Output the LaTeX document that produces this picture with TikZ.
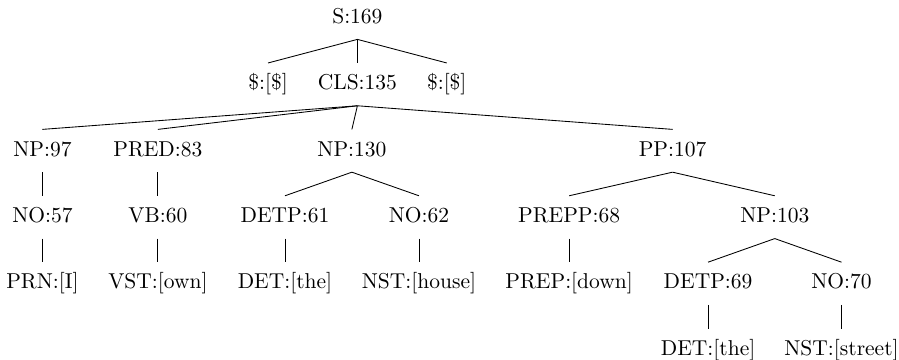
\documentclass[tikz,border=0pt]{standalone}
\usepackage{tikz}
\usepackage{amsmath}
\usetikzlibrary{calc}
\tikzstyle{tn}=[anchor=base,inner sep=3pt,text height=9.2pt,text depth=4.3pt]
\begin{document}
\begin{tikzpicture}
    \useasboundingbox (0,0) rectangle (14.69,-5.882);
    \node [style=tn] (s) at (5.84, -0.38) {S:169};
    \node [style=tn] (d1) at (4.38, -1.465) {\$:[\$]};
    \node [style=tn] (cls) at (5.84, -1.465) {CLS:135};
    \node [style=tn] (d2) at (7.30, -1.465) {\$:[\$]};
    \node [style=tn] (np1) at (0.694, -2.55) {NP:97};
    \node [style=tn] (pred) at (2.58, -2.55) {PRED:83};
    \node [style=tn] (np2) at (5.75, -2.55) {NP:130};
    \node [style=tn] (pp) at (10.99, -2.55) {PP:107};
    \node [style=tn] (no1) at (0.694, -3.635) {NO:57};
    \node [style=tn] (vb) at (2.58, -3.635) {VB:60};
    \node [style=tn] (detp1) at (4.657, -3.635) {DETP:61};
    \node [style=tn] (no2) at (6.846, -3.635) {NO:62};
    \node [style=tn] (prepp) at (9.30, -3.635) {PREPP:68};
    \node [style=tn] (np3) at (12.66, -3.635) {NP:103};
    \node [style=tn] (prn) at (0.694, -4.72) {PRN:[I]};
    \node [style=tn] (vst) at (2.58, -4.72) {VST:[own]};
    \node [style=tn] (det1) at (4.657, -4.72) {DET:[the]};
    \node [style=tn] (nst1) at (6.846, -4.72) {NST:[house]};
    \node [style=tn] (prep) at (9.30, -4.72) {PREP:[down]};
    \node [style=tn] (detp2) at (11.57, -4.72) {DETP:69};
    \node [style=tn] (no3) at (13.75, -4.72) {NO:70};
    \node [style=tn] (det2) at (11.57, -5.805) {DET:[the]};
    \node [style=tn] (nst2) at (13.75, -5.805) {NST:[street]};
    \draw (s.south) to (d1.north);
    \draw (s.south) to (cls.north);
    \draw (s.south) to (d2.north);
    \draw (cls.south) to (np1.north);
    \draw (cls.south) to (pred.north);
    \draw (cls.south) to (np2.north);
    \draw (cls.south) to (pp.north);
    \draw (np1.south) to (no1.north);
    \draw (pred.south) to (vb.north);
    \draw (np2.south) to (detp1.north);
    \draw (np2.south) to (no2.north);
    \draw (pp.south) to (prepp.north);
    \draw (pp.south) to (np3.north);
    \draw (no1.south) to (prn.north);
    \draw (vb.south) to (vst.north);
    \draw (detp1.south) to (det1.north);
    \draw (no2.south) to (nst1.north);
    \draw (prepp.south) to (prep.north);
    \draw (np3.south) to (detp2.north);
    \draw (np3.south) to (no3.north);
    \draw (detp2.south) to (det2.north);
    \draw (no3.south) to (nst2.north);
\end{tikzpicture}
\end{document}
